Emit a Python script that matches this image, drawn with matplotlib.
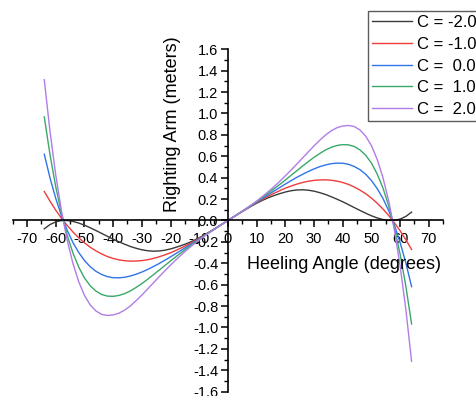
import matplotlib
matplotlib.use("Agg")
import matplotlib.pyplot as plt
from matplotlib.ticker import MultipleLocator

plt.rcParams['font.family'] = ['Liberation Sans', 'DejaVu Sans']

angles = [-64, -62, -60, -58, -56, -54, -52, -50, -48, -46, -44, -42, -40, -38, -36, -34, -32, -30,
          -28, -26, -24, -22, -20, -18, -16, -14, -12, -10, -8, -6, -4, -2,
          0, 2, 4, 6, 8, 10, 12, 14, 16, 18, 20, 22, 24, 26, 28, 30,
          32, 34, 36, 38, 40, 42, 44, 46, 48, 50, 52, 54, 56, 58, 60, 62, 64]

gz_cm2 = [-0.078, -0.038, -0.013, -0.001, 0.000, -0.009, -0.024, -0.044, -0.068, -0.094, -0.121, -0.148,
          -0.175, -0.199, -0.222, -0.243, -0.260, -0.274, -0.283, -0.287, -0.285, -0.278, -0.266, -0.250,
          -0.232, -0.212, -0.188, -0.161, -0.132, -0.100, -0.068, -0.034,
          0.0, 0.034, 0.068, 0.100, 0.132, 0.161, 0.188, 0.212, 0.232, 0.250, 0.266, 0.278, 0.285, 0.287,
          0.283, 0.274, 0.260, 0.243, 0.222, 0.199, 0.175, 0.148, 0.121, 0.094, 0.068, 0.044, 0.024, 0.009,
          0.000, 0.001, 0.013, 0.038, 0.078]
gz_cm1 = [0.271, 0.180, 0.096, 0.021, -0.047, -0.108, -0.162, -0.209, -0.250, -0.284, -0.313, -0.337,
          -0.355, -0.368, -0.376, -0.380, -0.379, -0.375, -0.367, -0.355, -0.340, -0.322, -0.302, -0.278,
          -0.253, -0.226, -0.197, -0.166, -0.135, -0.102, -0.068, -0.034,
          0.0, 0.034, 0.068, 0.102, 0.135, 0.166, 0.197, 0.226, 0.253, 0.278, 0.302, 0.322, 0.340, 0.355,
          0.367, 0.375, 0.379, 0.380, 0.376, 0.368, 0.355, 0.337, 0.313, 0.284, 0.250, 0.209, 0.162, 0.108,
          0.047, -0.021, -0.096, -0.180, -0.271]
gz_c0 = [0.619, 0.397, 0.206, 0.043, -0.093, -0.207, -0.299, -0.374, -0.432, -0.475, -0.505, -0.525,
         -0.535, -0.536, -0.531, -0.519, -0.503, -0.482, -0.458, -0.431, -0.403, -0.372, -0.340, -0.307,
         -0.274, -0.240, -0.206, -0.172, -0.137, -0.103, -0.069, -0.034,
         0.0, 0.034, 0.069, 0.103, 0.137, 0.172, 0.206, 0.240, 0.274, 0.307, 0.340, 0.372, 0.403, 0.431,
         0.458, 0.482, 0.503, 0.519, 0.531, 0.536, 0.535, 0.525, 0.505, 0.475, 0.432, 0.374, 0.299, 0.207,
         0.093, -0.043, -0.206, -0.397, -0.619]
gz_c1 = [0.968, 0.614, 0.315, 0.066, -0.140, -0.305, -0.435, -0.537, -0.610, -0.660, -0.692, -0.707,
         -0.709, -0.701, -0.684, -0.659, -0.626, -0.590, -0.550, -0.508, -0.465, -0.422, -0.378, -0.336,
         -0.295, -0.254, -0.215, -0.177, -0.140, -0.104, -0.069, -0.034,
         0.0, 0.034, 0.069, 0.104, 0.140, 0.177, 0.215, 0.254, 0.295, 0.336, 0.378, 0.422, 0.465, 0.508,
         0.550, 0.590, 0.626, 0.659, 0.684, 0.701, 0.709, 0.707, 0.692, 0.660, 0.610, 0.537, 0.435, 0.305,
         0.140, -0.066, -0.315, -0.614, -0.968]
gz_c2 = [1.316, 0.831, 0.425, 0.088, -0.186, -0.403, -0.572, -0.700, -0.789, -0.846, -0.878, -0.888,
         -0.883, -0.867, -0.838, -0.799, -0.750, -0.697, -0.641, -0.584, -0.527, -0.471, -0.417, -0.365,
         -0.315, -0.268, -0.224, -0.182, -0.143, -0.105, -0.069, -0.034,
         0.0, 0.034, 0.069, 0.105, 0.143, 0.182, 0.224, 0.268, 0.315, 0.365, 0.417, 0.471, 0.527, 0.584,
         0.641, 0.697, 0.750, 0.799, 0.838, 0.867, 0.883, 0.888, 0.878, 0.846, 0.789, 0.700, 0.572, 0.403,
         0.186, -0.088, -0.425, -0.831, -1.316]

labels = ["C = -2.0", "C = -1.0", "C =  0.0", "C =  1.0", "C =  2.0"]
colors = ["#3a3a3a", "#f03c3c", "#2f74e8", "#3aa86a", "#b07de8"]
series = [gz_cm2, gz_cm1, gz_c0, gz_c1, gz_c2]

xticks = [-70, -60, -50, -40, -30, -20, -10, 0, 10, 20, 30, 40, 50, 60, 70]
yticks = [-1.6, -1.4, -1.2, -1.0, -0.8, -0.6, -0.4, -0.2, 0.0, 0.2, 0.4, 0.6, 0.8, 1.0, 1.2, 1.4, 1.6]

fig = plt.figure(figsize=(4.76, 3.96), dpi=100)
ax = fig.add_axes([0.0267, 0.011, 0.9043, 0.8645])

handles = []
for ys, c, lab in zip(series, colors, labels):
    h, = ax.plot(angles, ys, color=c, lw=1.0, label=lab)
    handles.append(h)

ax.set_xlim(-75, 75)
ax.set_ylim(-1.6, 1.6)
ax.spines['left'].set_position(('data', 0))
ax.spines['bottom'].set_position(('data', 0))
ax.spines['right'].set_visible(False)
ax.spines['top'].set_visible(False)
for s in ('left', 'bottom'):
    ax.spines[s].set_linewidth(1.2)
    ax.spines[s].set_color('black')

ax.set_xticks(xticks)
ax.set_xticklabels([f"{v:d}" for v in xticks])
ax.set_yticks(yticks)
ax.set_yticklabels([f"{v:.1f}" for v in yticks])
ax.xaxis.set_minor_locator(MultipleLocator(5))
ax.yaxis.set_minor_locator(MultipleLocator(0.1))
ax.tick_params(axis='both', which='major', direction='out', length=5, width=1.1,
               labelsize=10.5, colors='black')
ax.tick_params(axis='x', which='major', pad=3)
ax.tick_params(axis='y', which='major', pad=2)
ax.tick_params(axis='both', which='minor', direction='out', length=3, width=1.0)

ax.text(0.372, 0.782, "Righting Arm (meters)", rotation=90, transform=ax.transAxes,
        ha='center', va='center', fontsize=13)
ax.text(0.769, 0.370, "Heeling Angle (degrees)", transform=ax.transAxes,
        ha='center', va='center', fontsize=13)

leg = fig.legend(handles=handles, loc='upper left', bbox_to_anchor=(0.773, 0.972),
                 prop={'size': 12}, frameon=True, fancybox=False, shadow=False,
                 handlelength=2.4, handletextpad=0.3, labelspacing=0.4, borderpad=0.25,
                 borderaxespad=0)
leg.get_frame().set_edgecolor('#333333')
leg.get_frame().set_linewidth(1.0)

fig.savefig("out.png", dpi=100)
